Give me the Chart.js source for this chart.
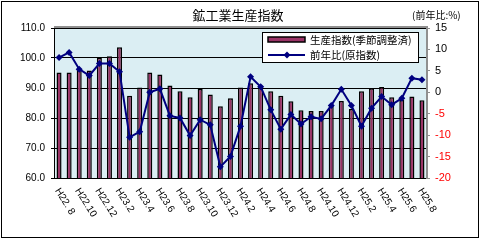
<!DOCTYPE html>
<html>
<head>
<meta charset="utf-8">
<script src="https://cdn.jsdelivr.net/npm/chart.js@4.4.1/dist/chart.umd.min.js"></script>
<style>
  body { margin: 0; background: #fff; }
</style>
</head>
<body>
<canvas id="myChart" width="480" height="240"></canvas>
<script>
// months H22.8 .. H25.8 (labels shown every 2 months)
var months = [
    "H22. 8", "H22.9", "H22.10", "H22.11", "H22.12",
    "H23.1", "H23.2", "H23.3", "H23.4", "H23.5", "H23.6", "H23.7", "H23.8", "H23.9", "H23.10", "H23.11", "H23.12",
    "H24.1", "H24.2", "H24.3", "H24.4", "H24.5", "H24.6", "H24.7", "H24.8", "H24.9", "H24.10", "H24.11", "H24.12",
    "H25.1", "H25.2", "H25.3", "H25.4", "H25.5", "H25.6", "H25.7", "H25.8"
];

// 生産指数(季節調整済)
var prodIndex = [
    95.2, 95.2, 96.3, 95.8, 100.1, 100.6, 103.6, 87.4, 90.2, 95.2, 94.5, 90.8,
    88.9, 86.9, 89.7, 87.8, 83.9, 86.6, 90.2, 91.6, 90.8, 88.9, 87.4, 85.6,
    82.6, 82.3, 82.3, 84.0, 85.7, 83.0, 88.9, 89.9, 90.3, 86.9, 86.0, 87.2, 85.9
];

// 前年比(原指数) %
var yoy = [
    8.1, 9.3, 5.4, 3.9, 6.7, 6.7, 4.8, -10.5, -9.2, 0.0, 0.8, -5.5,
    -6.0, -10.1, -6.4, -7.6, -17.4, -15.0, -7.9, 3.6, 1.3, -4.1, -8.6, -5.2,
    -7.4, -5.7, -6.2, -3.1, 0.7, -3.1, -7.9, -3.7, -1.0, -2.9, -1.4, 3.3, 2.9
];

var leftTicks = [60, 110, 10];
var rightTicks = [-20, 15, 5];

var titleText = "鉱工業生産指数";
var unitText = "(前年比:%)";
var barLabel = "生産指数(季節調整済)";
var lineLabel = "前年比(原指数)";

var barColor = "#993366";
var lineColor = "#000080";
var jpFont = "'Noto Sans CJK JP', 'Noto Sans', sans-serif";
var numFont = "'Liberation Sans', Arial, sans-serif";

// background, frame, title, legend and rotated month labels
var decor = {
    id: "decor",
    beforeDraw: function(chart) {
        var c = chart.ctx, a = chart.chartArea;
        c.save();
        c.fillStyle = "#fff";
        c.fillRect(0, 0, chart.width, chart.height);
        c.strokeStyle = "#000";
        c.lineWidth = 1;
        c.strokeRect(1.5, 1.5, chart.width - 3, chart.height - 4);
        c.fillStyle = "#dbeef3";
        c.fillRect(a.left, a.top, a.right - a.left, a.bottom - a.top);
        c.restore();
    },
    afterDraw: function(chart) {
        var c = chart.ctx, a = chart.chartArea;
        c.save();
        // top border of plot
        c.strokeStyle = "#909090";
        c.lineWidth = 2;
        c.beginPath();
        c.moveTo(a.left, a.top - 1);
        c.lineTo(a.right + 1, a.top - 1);
        c.stroke();

        c.fillStyle = "#000";
        c.textBaseline = "middle";
        c.font = "13px " + jpFont;
        c.textAlign = "center";
        c.fillText(titleText, 238, 15);
        c.font = "10px " + jpFont;
        c.textAlign = "left";
        c.fillText(unitText, 412, 15);

        // legend
        c.fillStyle = "#fff";
        c.fillRect(262, 32, 156, 30);
        c.strokeStyle = "#000";
        c.lineWidth = 1;
        c.strokeRect(262.5, 32.5, 156, 30);
        c.fillStyle = barColor;
        c.fillRect(268, 37, 37, 5);
        c.lineWidth = 1.5;
        c.strokeRect(268, 37, 37, 5);
        c.strokeStyle = lineColor;
        c.lineWidth = 2;
        c.beginPath();
        c.moveTo(268, 55);
        c.lineTo(305, 55);
        c.stroke();
        c.fillStyle = lineColor;
        c.beginPath();
        c.moveTo(287, 51.5); c.lineTo(290.5, 55); c.lineTo(287, 58.5); c.lineTo(283.5, 55);
        c.closePath();
        c.fill();
        c.fillStyle = "#000";
        c.font = "10.5px " + jpFont;
        c.fillText(barLabel, 310, 40);
        c.fillText(lineLabel, 310, 55);

        // month labels, every second one, rotated clockwise
        var xs = chart.scales.x;
        c.font = "10px " + numFont;
        c.textAlign = "left";
        for (var i = 0; i < months.length; i += 2) {
            var x = xs.getPixelForValue(i);
            c.save();
            c.translate(x - 2, a.bottom + 11);
            c.rotate(Math.PI / 180 * 58);
            c.fillText(months[i], 0, 0);
            c.restore();
        }
        c.restore();
    }
};

var ctx = document.getElementById("myChart").getContext("2d");
var chart = new Chart(ctx, {
    data: {
        labels: months,
        datasets: [{
            type: "line",
            label: lineLabel,
            data: yoy,
            yAxisID: "y2",
            borderColor: lineColor,
            backgroundColor: lineColor,
            borderWidth: 2,
            pointStyle: "rectRot",
            pointRadius: 3.5,
            pointBorderWidth: 0,
            tension: 0,
            order: 0
        }, {
            type: "bar",
            label: barLabel,
            data: prodIndex,
            yAxisID: "y",
            backgroundColor: barColor,
            borderColor: "#000",
            borderWidth: 1.5,
            barPercentage: 0.5,
            categoryPercentage: 1.0,
            order: 1
        }]
    },
    options: {
        responsive: false,
        animation: false,
        layout: { padding: { left: 0, right: 0, top: 28, bottom: 62 } },
        plugins: {
            legend: { display: false },
            tooltip: { enabled: false }
        },
        scales: {
            x: {
                grid: { display: false },
                border: { color: "#000", width: 1 },
                ticks: { display: false },
                afterFit: function(s) { s.height = 0; }
            },
            y: {
                position: "left",
                min: leftTicks[0],
                max: leftTicks[1],
                ticks: {
                    stepSize: leftTicks[2],
                    color: "#000",
                    padding: 6,
                    font: { family: numFont, size: 10 },
                    callback: function(v) { return v.toFixed(1); }
                },
                grid: { color: "#000", lineWidth: 1, tickLength: 3 },
                border: { color: "#000", width: 1 },
                afterFit: function(s) { s.width = 54; }
            },
            y2: {
                position: "right",
                min: rightTicks[0],
                max: rightTicks[1],
                ticks: {
                    stepSize: rightTicks[2],
                    padding: 5,
                    font: { family: numFont, size: 11 },
                    color: function(c) { return c.tick.value < 0 ? "#ff0000" : "#000"; }
                },
                grid: { drawOnChartArea: false, color: "#909090", tickLength: 3 },
                border: { color: "#909090", width: 2 },
                afterFit: function(s) { s.width = 53; }
            }
        }
    },
    plugins: [decor]
});
</script>
</body>
</html>
